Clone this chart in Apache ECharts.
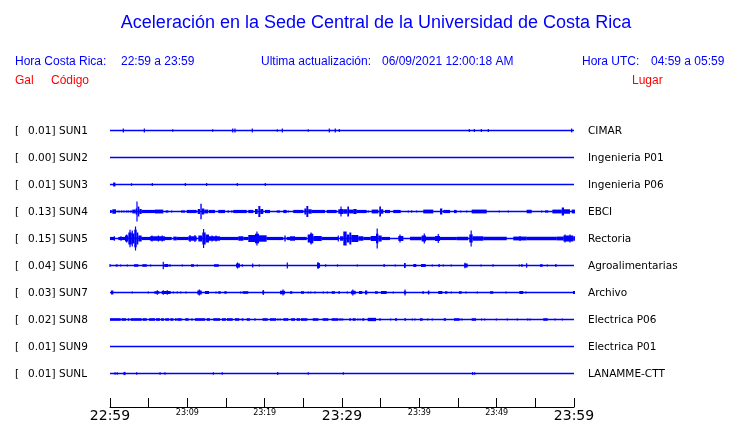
<!DOCTYPE html>
<html><head><meta charset="utf-8">
<script src="https://cdn.jsdelivr.net/npm/echarts@6/dist/echarts.min.js"></script>
<style>html,body{margin:0;padding:0;background:#fff}#c{width:740px;height:423px}</style>
</head><body><div id="c"></div>
<script>
// ---- data ----
var stations = ['SUN1','SUN2','SUN3','SUN4','SUN5','SUN6','SUN7','SUN8','SUN9','SUNL'];
var peaks = [0.01,0.00,0.01,0.13,0.15,0.04,0.03,0.02,0.01,0.01];
var places = ['CIMAR','Ingenieria P01','Ingenieria P06','EBCI','Rectoria','Agroalimentarias','Archivo','Electrica P06','Electrica P01','LANAMME-CTT'];
var tickLabels = ['22:59','23:09','23:19','23:29','23:39','23:49','23:59'];
var bigLabels = ['22:59','23:29','23:59'];
// events: [start minute, end minute, half amplitude (Gal)]
var sun1 = [[1.72,1.72,0.025],[4.44,4.44,0.025],[8.11,8.11,0.016],[13.28,13.28,0.016],[15.87,15.87,0.025],[16.16,16.16,0.025],[18.40,18.40,0.025],[21.63,21.63,0.016],[22.28,22.28,0.025],[25.64,25.64,0.016],[28.36,28.36,0.025],[29.13,29.13,0.025],[29.65,29.65,0.02],[46.46,46.46,0.02],[47.11,47.11,0.02],[48.02,48.02,0.02],[48.92,48.92,0.02],[59.70,59.70,0.025]];
var sun2 = [];
var sun3 = [[0.40,0.70,0.025],[2.78,2.78,0.016],[5.47,5.47,0.02],[9.74,9.74,0.02],[12.50,12.65,0.02],[16.46,16.46,0.02],[20.08,20.08,0.02]];
var sun4 = [[0,0.22,0.02],[0.30,0.78,0.028],[0.94,1.29,0.01],[1.51,1.51,0.014],[1.81,1.81,0.014],[2.16,2.16,0.014],[2.37,2.37,0.014],[2.59,2.81,0.014],[2.88,3.32,0.024],[3.32,3.49,0.0375],[3.49,3.58,0.125],[3.58,3.79,0.0625],[3.79,4.10,0.031],[4.10,5.82,0.02],[5.82,6.89,0.024],[7.20,7.54,0.014],[7.98,7.98,0.014],[9.18,9.70,0.014],[9.92,11.21,0.02],[11.34,11.64,0.031],[11.68,11.86,0.096],[11.86,12.19,0.0375],[12.19,12.71,0.024],[12.80,13.58,0.02],[14.0,14.87,0.02],[15.2,15.4,0.014],[15.65,15.85,0.014],[15.94,17.68,0.02],[17.88,18.53,0.02],[18.75,19.10,0.031],[19.18,19.44,0.069],[19.44,19.82,0.031],[20.04,20.69,0.02],[21.56,21.98,0.014],[22.41,22.85,0.02],[23.06,23.06,0.014],[23.70,25.0,0.02],[25.13,25.39,0.0375],[25.39,25.64,0.069],[25.64,26.08,0.028],[26.08,27.80,0.02],[28.02,29.31,0.02],[29.52,29.74,0.028],[29.74,30.17,0.031],[29.87,29.95,0.0625],[30.17,30.69,0.028],[30.69,30.91,0.0625],[30.91,31.46,0.024],[31.46,31.90,0.031],[31.90,33.19,0.02],[33.40,33.40,0.014],[33.84,34.70,0.024],[34.82,35.04,0.0625],[35.04,35.34,0.028],[35.56,36.21,0.02],[36.63,37.59,0.02],[38.57,38.57,0.014],[38.92,39.09,0.014],[39.66,39.66,0.014],[40.51,41.80,0.024],[42.67,42.97,0.0375],[43.10,43.97,0.02],[44.48,44.83,0.02],[45.35,45.35,0.014],[46.12,46.12,0.014],[46.77,48.71,0.024],[50.34,50.34,0.014],[51.51,51.51,0.014],[53.88,54.53,0.022],[55.82,55.82,0.014],[56.25,56.68,0.014],[57.20,58.41,0.024],[58.41,58.71,0.05],[58.71,59.48,0.028],[59.70,60.13,0.024]];
var sun5 = [[0,0.65,0.02],[0.56,0.56,0.028],[1.07,1.94,0.02],[1.42,1.42,0.028],[1.94,2.37,0.0375],[2.16,2.16,0.05],[2.37,2.81,0.075],[2.59,2.59,0.109],[2.81,3.14,0.0625],[2.88,2.88,0.1],[3.14,3.45,0.11],[3.30,3.30,0.15],[3.45,3.66,0.075],[3.66,4.10,0.0375],[4.10,5.17,0.02],[5.17,5.82,0.028],[5.43,5.43,0.0375],[5.82,7.11,0.028],[6.25,6.25,0.0375],[6.76,6.76,0.0375],[7.11,7.98,0.02],[8.19,8.62,0.024],[8.62,10.13,0.02],[10.13,11.21,0.028],[10.34,10.34,0.044],[10.99,10.99,0.044],[11.42,11.94,0.0375],[11.94,12.37,0.075],[12.10,12.10,0.119],[12.37,12.80,0.05],[12.80,14.22,0.028],[13.19,13.19,0.0375],[13.71,13.71,0.0375],[14.22,16.59,0.02],[16.59,17.24,0.028],[17.24,17.88,0.02],[17.88,18.75,0.044],[18.75,19.27,0.06],[19.0,19.0,0.0875],[19.27,20.26,0.04],[20.26,22.41,0.02],[22.54,22.72,0.0375],[22.85,23.28,0.02],[23.28,23.92,0.028],[23.92,25.44,0.02],[25.56,25.86,0.05],[25.86,26.29,0.06],[26.0,26.0,0.075],[26.29,27.38,0.031],[27.38,29.52,0.02],[29.52,29.52,0.0375],[29.74,30.17,0.028],[30.17,30.60,0.0875],[30.60,30.95,0.05],[30.95,31.20,0.075],[31.20,32.11,0.044],[32.11,32.76,0.028],[32.76,33.71,0.02],[33.71,34.40,0.031],[34.40,34.70,0.06],[34.55,34.55,0.125],[34.70,35.13,0.0375],[35.13,36.21,0.02],[37.28,37.93,0.031],[37.50,37.50,0.05],[38.79,40.30,0.022],[40.30,40.86,0.0375],[40.64,40.64,0.0625],[40.86,42.03,0.022],[42.03,42.67,0.031],[42.45,42.45,0.056],[42.67,44.83,0.02],[44.83,46.33,0.022],[46.46,46.90,0.05],[46.70,46.70,0.1],[46.90,48.27,0.028],[48.27,51.30,0.022],[52.15,53.88,0.024],[53.02,53.02,0.031],[53.88,57.76,0.022],[57.76,58.62,0.024],[58.62,59.91,0.0375],[58.84,58.84,0.05],[59.48,59.48,0.05],[59.91,60.13,0.028]];
var sun6 = [[0,0,0.019],[0.74,1.0,0.014],[1.38,1.38,0.014],[2.24,2.24,0.014],[3.10,3.66,0.016],[4.18,4.75,0.016],[5.26,5.40,0.014],[6.89,6.89,0.046],[7.02,7.54,0.019],[7.76,7.90,0.016],[9.35,9.35,0.014],[10.47,10.86,0.016],[11.29,11.29,0.014],[13.45,14.06,0.016],[16.29,16.81,0.025],[16.5,16.5,0.0375],[17.11,17.24,0.016],[18.45,18.45,0.025],[19.31,19.31,0.014],[22.93,22.93,0.0375],[26.77,27.16,0.03],[26.9,26.9,0.044],[27.89,28.02,0.016],[29.42,29.42,0.014],[31.98,31.98,0.014],[35.34,35.56,0.016],[36.89,36.89,0.014],[38.02,38.24,0.031],[39.22,39.61,0.019],[40.22,40.82,0.019],[41.68,41.68,0.014],[42.45,42.67,0.016],[43.10,43.10,0.014],[44.13,44.13,0.014],[45.82,46.25,0.025],[45.9,45.9,0.035],[47.98,47.98,0.014],[49.53,49.66,0.016],[52.93,52.93,0.014],[53.15,53.37,0.016],[53.88,53.88,0.029],[55.60,55.95,0.016],[56.55,56.55,0.014],[57.54,57.76,0.016]];
var sun7 = [[0.13,0.43,0.025],[2.88,2.88,0.012],[4.95,4.95,0.012],[5.73,6.38,0.016],[6.12,6.12,0.029],[6.69,7.85,0.019],[6.89,6.89,0.029],[7.41,7.41,0.029],[8.19,8.19,0.012],[8.70,8.70,0.012],[9.14,9.14,0.012],[9.83,9.83,0.012],[11.29,11.86,0.025],[11.55,11.55,0.0375],[12.28,12.80,0.019],[13.71,13.71,0.012],[14.00,14.31,0.016],[14.78,15.09,0.016],[16.90,16.90,0.012],[17.16,17.88,0.016],[19.7,19.95,0.016],[19.82,19.82,0.031],[21.98,22.63,0.022],[22.37,22.37,0.0375],[23.28,23.57,0.016],[24.70,25.09,0.016],[25.64,25.64,0.012],[25.95,25.95,0.012],[26.51,26.51,0.012],[27.58,27.58,0.012],[28.10,28.10,0.012],[28.67,29.09,0.016],[29.52,29.74,0.016],[30.69,30.69,0.012],[31.16,31.77,0.022],[31.4,31.4,0.0375],[32.20,32.62,0.019],[32.97,33.27,0.025],[34.27,34.62,0.016],[35.04,35.78,0.019],[36.63,36.63,0.012],[38.0,38.3,0.016],[38.15,38.15,0.0375],[40.38,40.60,0.016],[41.08,41.29,0.016],[41.2,41.2,0.025],[42.45,42.97,0.019],[43.32,43.62,0.016],[44.13,44.13,0.012],[45.13,45.48,0.016],[46.04,46.04,0.012],[47.50,47.50,0.012],[49.14,49.56,0.016],[51.21,51.21,0.012],[52.93,53.44,0.019],[53.79,53.79,0.012],[59.87,60.13,0.019]];
var sun8 = [[0,1.38,0.016],[1.51,2.07,0.016],[2.29,2.50,0.016],[2.68,4.10,0.016],[4.23,4.75,0.016],[5.05,5.82,0.016],[5.95,6.47,0.016],[6.60,6.98,0.016],[7.15,7.63,0.016],[7.80,8.19,0.016],[8.41,8.62,0.016],[8.70,9.27,0.016],[9.74,10.17,0.016],[10.60,10.60,0.016],[10.99,12.28,0.016],[12.50,12.93,0.016],[13.36,14.22,0.016],[14.48,15.0,0.016],[15.13,15.86,0.016],[16.16,16.72,0.016],[17.03,17.24,0.016],[17.68,18.10,0.016],[18.75,18.75,0.016],[19.74,20.39,0.016],[20.69,21.47,0.016],[21.7,21.7,0.014],[22.0,22.0,0.014],[22.41,23.05,0.016],[23.41,23.92,0.016],[24.14,24.57,0.016],[24.70,25.52,0.016],[26.21,26.94,0.016],[27.50,28.23,0.016],[28.67,29.52,0.016],[29.61,30.17,0.012],[30.95,31.16,0.016],[31.38,31.77,0.016],[32.03,32.03,0.014],[32.33,32.33,0.014],[32.62,32.88,0.016],[33.32,34.40,0.021],[34.82,35.0,0.016],[36.30,36.30,0.014],[36.85,37.11,0.016],[38.06,38.28,0.016],[39.09,39.09,0.014],[39.44,39.44,0.014],[40.09,40.43,0.016],[41.08,41.08,0.014],[41.68,41.68,0.014],[43.15,43.45,0.016],[44.48,45.13,0.016],[45.22,45.22,0.014],[45.52,45.52,0.014],[46.77,47.33,0.016],[48.06,48.06,0.014],[48.45,48.45,0.014],[49.96,49.96,0.014],[51.38,51.38,0.014],[52.67,52.67,0.014],[54.01,54.01,0.014],[54.31,54.31,0.014],[56.03,56.60,0.016],[57.54,57.54,0.014],[58.49,58.49,0.014]];
var sun9 = [];
var sunl = [[0.65,0.65,0.016],[0.94,0.94,0.016],[1.75,2.0,0.02],[3.45,3.45,0.016],[6.47,6.47,0.016],[7.11,7.11,0.016],[13.36,13.36,0.016],[14.52,14.52,0.016],[21.69,21.69,0.02],[25.64,25.64,0.016],[30.17,30.17,0.016],[46.90,46.90,0.02],[47.16,47.16,0.016]];
var traces = [sun1,sun2,sun3,sun4,sun5,sun6,sun7,sun8,sun9,sunl];

// ---- layout / style ----
var BLUE = '#0000ff', RED = '#ff0000';
var PLOT_LEFT = 110, PLOT_W = 464, ROW0 = 130.5, ROW_H = 27, HALF = 0.16875;
var grids = [], xAxes = [], yAxes = [], series = [], graphics = [];
traces.forEach(function (ev, i) {
  grids.push({left: PLOT_LEFT, width: PLOT_W, top: ROW0 + i * ROW_H - ROW_H / 2, height: ROW_H});
  xAxes.push({gridIndex: i, type: 'value', min: 0, max: 60, show: false});
  yAxes.push({gridIndex: i, type: 'value', min: -HALF, max: HALF, show: false});
  series.push({type: 'line', xAxisIndex: i, yAxisIndex: i, data: [[0, 0], [60, 0]], symbol: 'none',
    lineStyle: {color: BLUE, width: 1.4}, silent: true});
  series.push({type: 'custom', xAxisIndex: i, yAxisIndex: i, data: ev, clip: false, silent: true,
    encode: {x: [0, 1], y: 2},
    renderItem: function (params, api) {
      var a = api.value(2);
      var p0 = api.coord([api.value(0), a]);
      var p1 = api.coord([api.value(1), -a]);
      var w = Math.max(1.2, p1[0] - p0[0]);
      return {type: 'rect', shape: {x: p0[0] - (p1[0] - p0[0] < 1.2 ? 0.6 : 0), y: p0[1], width: w, height: p1[1] - p0[1]},
        style: {fill: BLUE}};
    }});
  var y = ROW0 + i * ROW_H + 0.5;
  var f = '10.5px "DejaVu Sans"';
  graphics.push({type: 'text', x: 15, y: y, style: {text: '[', font: f, fill: '#000', textVerticalAlign: 'middle', verticalAlign: 'middle'}});
  graphics.push({type: 'text', x: 28, y: y, style: {text: peaks[i].toFixed(2) + ']', font: f, fill: '#000', textVerticalAlign: 'middle', verticalAlign: 'middle'}});
  graphics.push({type: 'text', x: 59, y: y, style: {text: stations[i], font: f, fill: '#000', textVerticalAlign: 'middle', verticalAlign: 'middle'}});
  graphics.push({type: 'text', x: 588, y: y, style: {text: places[i], font: f, fill: '#000', textVerticalAlign: 'middle', verticalAlign: 'middle'}});
});
// time axis grid
var ti = traces.length;
grids.push({left: PLOT_LEFT, width: PLOT_W, top: 399, height: 10});
xAxes.push({gridIndex: ti, type: 'value', min: 0, max: 60, interval: 5, position: 'bottom',
  axisLine: {lineStyle: {color: '#000', width: 1}},
  axisTick: {inside: true, length: 9, lineStyle: {color: '#000', width: 1}},
  splitLine: {show: false},
  axisLabel: {margin: 1, showMinLabel: true, showMaxLabel: true, hideOverlap: false,
    formatter: function (v) {
      if (v % 10 !== 0) return '';
      var s = tickLabels[v / 10];
      return bigLabels.indexOf(s) >= 0 ? '{b|' + s + '}' : '{s|' + s + '}';
    },
    rich: {b: {fontSize: 14, fontFamily: 'DejaVu Sans', color: '#000', padding: [1, 0, 0, 0]},
           s: {fontSize: 8, fontFamily: 'DejaVu Sans', color: '#000', padding: [1, 0, 0, 0]}}}});
yAxes.push({gridIndex: ti, type: 'value', show: false, min: 0, max: 1});

// header text
var hf = '12px "Liberation Sans"';
function t(x, y, s, col, font, align) {
  graphics.push({type: 'text', x: x, y: y, style: {text: s, fill: col, font: font, textAlign: align || 'left', align: align || 'left', textVerticalAlign: 'middle', verticalAlign: 'middle'}});
}
t(376, 23, 'Aceleración en la Sede Central de la Universidad de Costa Rica', BLUE, '18px "Liberation Sans"', 'center');
t(15, 61.5, 'Hora Costa Rica:', BLUE, hf);
t(121, 61.5, '22:59 a 23:59', BLUE, hf);
t(261, 61.5, 'Ultima actualización:', BLUE, hf);
t(382, 61.5, '06/09/2021 12:00:18 AM', BLUE, hf);
t(582, 61.5, 'Hora UTC:', BLUE, hf);
t(651, 61.5, '04:59 a 05:59', BLUE, hf);
t(15, 80.5, 'Gal', RED, hf);
t(51, 80.5, 'Código', RED, hf);
t(632, 80.5, 'Lugar', RED, hf);

var chart = echarts.init(document.getElementById('c'), null, {renderer: 'canvas'});
chart.setOption({animation: false, backgroundColor: '#fff', grid: grids, xAxis: xAxes, yAxis: yAxes, series: series, graphic: graphics});
</script></body></html>
